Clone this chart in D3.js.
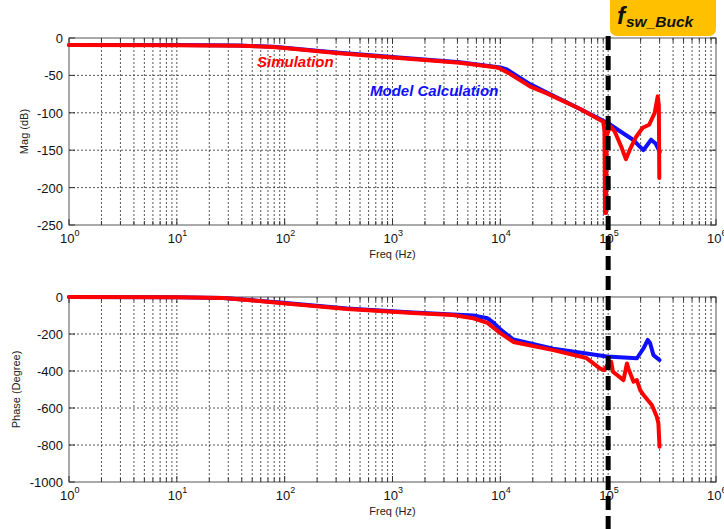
<!DOCTYPE html>
<html>
<head>
<meta charset="utf-8">
<script src="https://cdn.jsdelivr.net/npm/d3@7/dist/d3.min.js"></script>
<style>
  body { margin: 0; background: #fff; }
  svg { display: block; }
  text { font-family: "Liberation Sans", Arial, sans-serif; }
</style>
</head>
<body>
<svg id="chart" width="724" height="529"></svg>
<script>
// Bode plot: buck converter, simulation vs. model calculation
const magTicks = [0, -50, -100, -150, -200, -250];
const phaseTicks = [0, -200, -400, -600, -800, -1000];
const decadeExps = [0, 1, 2, 3, 4, 5, 6];
const switchingFreq = 1e5;

// Magnitude (dB) — [frequency Hz, value]
const magSimulation = [
  [1, -9.5], [10, -9.6], [38, -10.2], [78, -12], [100, -13.5], [300, -20],
  [1000, -26], [4200, -33], [9000, -39], [10000, -41], [12000, -47],
  [19000, -65], [27000, -74], [55000, -95], [90000, -112], [92500, -125],
  [93500, -234], [95500, -234], [97000, -130], [104700, -118],
  [115000, -125], [132000, -145], [146000, -162], [158000, -150],
  [182000, -132], [209000, -120], [240000, -116], [270000, -100],
  [288000, -78], [295000, -90], [298000, -187]
];
const magModel = [
  [1, -9.5], [10, -9.5], [38, -10], [78, -11.8], [100, -13], [300, -19.5],
  [1000, -25.5], [4200, -32.5], [10000, -39.5], [11500, -42], [14000, -50],
  [19000, -62], [27000, -73], [55000, -95], [100000, -114], [130000, -125],
  [170000, -136], [212000, -150], [250000, -136], [275000, -141], [300000, -152]
];

// Phase (degree) — [frequency Hz, value]
const phaseSimulation = [
  [1, 0], [10, -2], [27, -5], [91, -32], [380, -65], [1550, -86],
  [3630, -97], [5620, -115], [7600, -140], [10000, -195], [13200, -243],
  [31000, -287], [63000, -330], [84300, -387], [91800, -395],
  [100700, -359], [106700, -350], [110700, -404], [138700, -449],
  [149300, -359], [154200, -387], [171800, -458], [184500, -449],
  [198200, -503], [212800, -530], [254100, -584], [282500, -647],
  [292400, -683], [299200, -809]
];
const phaseModel = [
  [1, 0], [10, -2], [27, -5], [91, -30], [380, -62], [1550, -84],
  [3630, -95], [5620, -100], [7600, -115], [8700, -140], [10000, -175],
  [13200, -230], [31000, -280], [63000, -305], [97000, -322],
  [185000, -331], [213000, -277], [233000, -232], [245000, -250],
  [263000, -314], [299000, -341]
];

const svg = d3.select("#chart");
const left = 69, right = 716;

const x = d3.scaleLog().domain([1, 1e6]).range([left, right]);
const yMag = d3.scaleLinear().domain([-250, 0]).range([225, 38]);
const yPhase = d3.scaleLinear().domain([-1000, 0]).range([482, 297]);

function panel(y, ticks, yLabel, sim, model, labelX) {
  const g = svg.append("g");
  const [y0, y1] = y.range(); // bottom, top
  const xTicks = x.ticks();

  // grid
  g.selectAll("line.vg").data(xTicks.filter(t => t > 1 && t < 1e6)).join("line")
    .attr("x1", d => x(d)).attr("x2", d => x(d))
    .attr("y1", y1).attr("y2", y0)
    .attr("stroke", "#444").attr("stroke-width", 0.9)
    .attr("stroke-dasharray", "2,2");
  g.selectAll("line.hg").data(ticks.slice(1, -1)).join("line")
    .attr("x1", left).attr("x2", right)
    .attr("y1", d => y(d)).attr("y2", d => y(d))
    .attr("stroke", "#444").attr("stroke-width", 0.9)
    .attr("stroke-dasharray", "2,2");

  // frame
  g.append("rect").attr("x", left).attr("y", y1)
    .attr("width", right - left).attr("height", y0 - y1)
    .attr("fill", "none").attr("stroke", "#555").attr("stroke-width", 1);

  // tick marks (inward)
  const isDecade = d => Math.abs(Math.log10(d) - Math.round(Math.log10(d))) < 1e-9;
  xTicks.forEach(t => {
    const len = isDecade(t) ? 6 : 4;
    g.append("line").attr("x1", x(t)).attr("x2", x(t)).attr("y1", y0).attr("y2", y0 - len)
      .attr("stroke", "#333");
    g.append("line").attr("x1", x(t)).attr("x2", x(t)).attr("y1", y1).attr("y2", y1 + len)
      .attr("stroke", "#333");
  });
  ticks.forEach(t => {
    g.append("line").attr("x1", left).attr("x2", left + 6).attr("y1", y(t)).attr("y2", y(t)).attr("stroke", "#333");
    g.append("line").attr("x1", right).attr("x2", right - 6).attr("y1", y(t)).attr("y2", y(t)).attr("stroke", "#333");
  });

  // y tick labels
  g.selectAll("text.yt").data(ticks).join("text")
    .attr("x", 63).attr("y", d => y(d) + 5)
    .attr("text-anchor", "end").attr("font-size", 13).attr("fill", "#111")
    .text(d => d);

  // x tick labels: 10^n
  decadeExps.forEach(e => {
    const t = g.append("text").attr("x", x(Math.pow(10, e)) - 9).attr("y", y0 + 18)
      .attr("font-size", 13).attr("fill", "#111");
    t.append("tspan").text("10");
    t.append("tspan").attr("dy", -7).attr("font-size", 9).text(e);
  });

  // axis titles
  g.append("text").attr("x", (left + right) / 2).attr("y", y0 + 33)
    .attr("text-anchor", "middle").attr("font-size", 11).attr("fill", "#222")
    .text("Freq (Hz)");
  g.append("text")
    .attr("transform", `translate(${labelX},${(y0 + y1) / 2}) rotate(-90)`)
    .attr("text-anchor", "middle").attr("font-size", 11).attr("fill", "#222")
    .text(yLabel);

  // curves
  const line = d3.line().x(d => x(d[0])).y(d => y(d[1]));
  g.append("path").datum(model).attr("d", line)
    .attr("fill", "none").attr("stroke", "#1010ff").attr("stroke-width", 4)
    .attr("stroke-linejoin", "round").attr("stroke-linecap", "round");
  g.append("path").datum(sim).attr("d", line)
    .attr("fill", "none").attr("stroke", "#ff0000").attr("stroke-width", 4)
    .attr("stroke-linejoin", "round").attr("stroke-linecap", "round");
}

panel(yMag, magTicks, "Mag (dB)", magSimulation, magModel, 28);
panel(yPhase, phaseTicks, "Phase (Degree)", phaseSimulation, phaseModel, 20);

// series labels
svg.append("text").attr("x", 257).attr("y", 67)
  .attr("font-family", "'Open Sans', sans-serif").attr("font-weight", "bold")
  .attr("font-style", "italic").attr("font-size", 15).attr("fill", "#ff0000")
  .text("Simulation");
svg.append("text").attr("x", 370).attr("y", 96)
  .attr("font-family", "'Open Sans', sans-serif").attr("font-weight", "bold")
  .attr("font-style", "italic").attr("font-size", 15).attr("fill", "#1010ff")
  .text("Model Calculation");

// switching frequency marker
const fx = x(switchingFreq);
svg.append("line").attr("x1", fx).attr("x2", fx).attr("y1", 36).attr("y2", 529)
  .attr("stroke", "#000").attr("stroke-width", 5).attr("stroke-dasharray", "14,6");
svg.append("rect").attr("x", 610).attr("y", -8).attr("width", 106).attr("height", 44)
  .attr("rx", 7).attr("fill", "#ffc000");
const ft = svg.append("text").attr("x", 617).attr("y", 24)
  .attr("font-family", "'Liberation Sans', Arial, sans-serif")
  .attr("font-weight", "bold").attr("font-style", "italic").attr("fill", "#111");
ft.append("tspan").attr("font-size", 24).text("f");
ft.append("tspan").attr("font-size", 15.5).attr("dy", 3).attr("dx", 1).text("sw_Buck");
</script>
</body>
</html>
